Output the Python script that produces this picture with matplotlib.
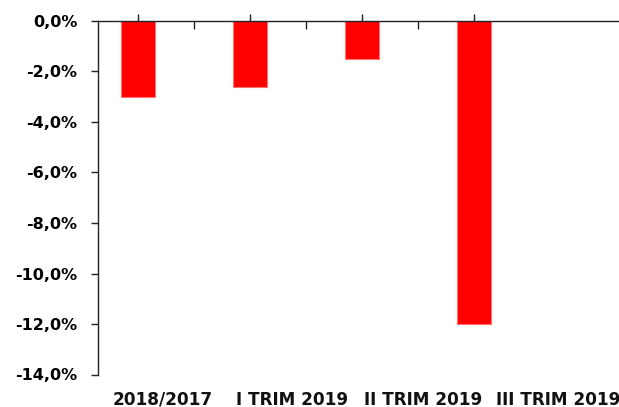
import matplotlib
matplotlib.use("Agg")
import matplotlib.pyplot as plt
import matplotlib.transforms as mtransforms
from matplotlib.ticker import FuncFormatter, FixedLocator

categories = ["2018/2017", "I TRIM 2019", "II TRIM 2019", "III TRIM 2019"]
values = [-3.0, -2.6, -1.5, -12.0]
yticks = [0, -2, -4, -6, -8, -10, -12, -14]

# layout: label centres (in category units) as placed in the reference
label_pos = [0.22, 1.38, 2.55, 3.75]

plt.rcParams['font.family'] = ['DejaVu Sans']

fig = plt.figure(figsize=(6.19, 4.07), dpi=100)
ax = fig.add_axes([98/619, 1-374.5/407, 1-98/619, (374.5-21)/407])

x = list(range(len(categories)))
ax.bar(x, values, width=0.31, color="#FF0000", edgecolor="#FF7070", linewidth=0.8, zorder=2)

ax.set_ylim(-14, 0)
ax.set_xlim(-0.357, 4.295)

for s in ["right", "bottom"]:
    ax.spines[s].set_visible(False)
for s in ["left", "top"]:
    ax.spines[s].set_color("#222222")
    ax.spines[s].set_linewidth(1.0)

ax.yaxis.set_major_locator(FixedLocator(yticks))
ax.yaxis.set_major_formatter(FuncFormatter(lambda v, p: f"{v:.1f}".replace(".", ",") + "%"))
ax.tick_params(axis="y", direction="out", length=5, width=1, color="#222222",
               pad=10, labelsize=11.5)
for lab in ax.get_yticklabels():
    lab.set_fontweight("bold")

ax.set_xticks(x)
ax.set_xticklabels([])
ax.set_xticks([0.5, 1.5, 2.5], minor=True)
ax.tick_params(axis="x", which="major", bottom=False, top=True, labelbottom=False,
               labeltop=False, direction="inout", length=10, width=1,
               color="#222222")
ax.tick_params(axis="x", which="minor", bottom=False, top=True, direction="in",
               length=6, width=1, color="#222222")

trans = mtransforms.blended_transform_factory(ax.transData, ax.transAxes)
y_lab = -(391 - 374.5) / (374.5 - 21)
for xp, cat in zip(label_pos, categories):
    ax.text(xp, y_lab, cat, transform=trans, ha="center", va="top",
            fontsize=12.2, fontweight="bold", color="#111111", clip_on=False)

fig.savefig("out.png", dpi=100)
